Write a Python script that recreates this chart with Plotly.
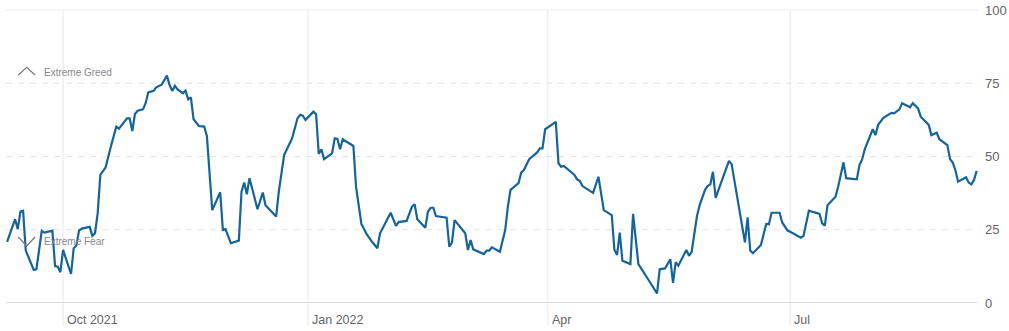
import plotly.graph_objects as go

# ---- data ----
dates = [
    "2021-09-10", "2021-09-13", "2021-09-14", "2021-09-15", "2021-09-16", "2021-09-17",
    "2021-09-20", "2021-09-21", "2021-09-23", "2021-09-24", "2021-09-27", "2021-09-28",
    "2021-09-29", "2021-09-30", "2021-10-01", "2021-10-04", "2021-10-05", "2021-10-06",
    "2021-10-07", "2021-10-08", "2021-10-11", "2021-10-12", "2021-10-13", "2021-10-14",
    "2021-10-15", "2021-10-17", "2021-10-19", "2021-10-21", "2021-10-22", "2021-10-25",
    "2021-10-26", "2021-10-27", "2021-10-28", "2021-10-29", "2021-10-31", "2021-11-01",
    "2021-11-02", "2021-11-04", "2021-11-05", "2021-11-07", "2021-11-09", "2021-11-10",
    "2021-11-11", "2021-11-12", "2021-11-13", "2021-11-15", "2021-11-16", "2021-11-17",
    "2021-11-18", "2021-11-19", "2021-11-21", "2021-11-23", "2021-11-24", "2021-11-26",
    "2021-11-29", "2021-11-30", "2021-12-01", "2021-12-03", "2021-12-06", "2021-12-07",
    "2021-12-08", "2021-12-09", "2021-12-10", "2021-12-13", "2021-12-15", "2021-12-16",
    "2021-12-20", "2021-12-21", "2021-12-23", "2021-12-26", "2021-12-28", "2021-12-29",
    "2021-12-30", "2021-12-31", "2022-01-03", "2022-01-04", "2022-01-05", "2022-01-06",
    "2022-01-07", "2022-01-10", "2022-01-11", "2022-01-12", "2022-01-13", "2022-01-14",
    "2022-01-18", "2022-01-19", "2022-01-21", "2022-01-23", "2022-01-25", "2022-01-27",
    "2022-01-28", "2022-02-01", "2022-02-03", "2022-02-04", "2022-02-07", "2022-02-09",
    "2022-02-10", "2022-02-11", "2022-02-14", "2022-02-15", "2022-02-16", "2022-02-17",
    "2022-02-18", "2022-02-22", "2022-02-23", "2022-02-24", "2022-02-25", "2022-02-27",
    "2022-03-01", "2022-03-02", "2022-03-03", "2022-03-04", "2022-03-08", "2022-03-09",
    "2022-03-10", "2022-03-11", "2022-03-14", "2022-03-16", "2022-03-17", "2022-03-18",
    "2022-03-21", "2022-03-22", "2022-03-23", "2022-03-25", "2022-03-28", "2022-03-29",
    "2022-03-30", "2022-03-31", "2022-04-04", "2022-04-05", "2022-04-06", "2022-04-07",
    "2022-04-09", "2022-04-11", "2022-04-12", "2022-04-13", "2022-04-14", "2022-04-18",
    "2022-04-20", "2022-04-22", "2022-04-25", "2022-04-26", "2022-04-27", "2022-04-28",
    "2022-04-29", "2022-05-02", "2022-05-03", "2022-05-05", "2022-05-09", "2022-05-11",
    "2022-05-12", "2022-05-13", "2022-05-15", "2022-05-17", "2022-05-18", "2022-05-19",
    "2022-05-20", "2022-05-23", "2022-05-24", "2022-05-25", "2022-05-27", "2022-05-28",
    "2022-05-30", "2022-05-31", "2022-06-01", "2022-06-02", "2022-06-03", "2022-06-08",
    "2022-06-09", "2022-06-14", "2022-06-15", "2022-06-16", "2022-06-17", "2022-06-20",
    "2022-06-22", "2022-06-23", "2022-06-24", "2022-06-27", "2022-06-28", "2022-06-30",
    "2022-07-01", "2022-07-05", "2022-07-06", "2022-07-08", "2022-07-12", "2022-07-13",
    "2022-07-14", "2022-07-15", "2022-07-18", "2022-07-19", "2022-07-21", "2022-07-22",
    "2022-07-26", "2022-07-27", "2022-07-28", "2022-07-29", "2022-08-01", "2022-08-02",
    "2022-08-03", "2022-08-05", "2022-08-08", "2022-08-09", "2022-08-11", "2022-08-12",
    "2022-08-15", "2022-08-16", "2022-08-18", "2022-08-19", "2022-08-22", "2022-08-23",
    "2022-08-24", "2022-08-25", "2022-08-26", "2022-08-29", "2022-08-30", "2022-08-31",
    "2022-09-01", "2022-09-02", "2022-09-05", "2022-09-06", "2022-09-07", "2022-09-08",
    "2022-09-09",
]

values = [
    20.9, 28.6, 25.2, 31.2, 31.5, 17.9,
    11.3, 11.5, 24.6, 24.0, 24.7, 12.6,
    12.4, 10.5, 18.1, 9.9, 18.7, 19.6,
    24.7, 25.4, 26.0, 22.9, 23.8, 30.6,
    43.7, 46.3, 53.6, 60.2, 59.5, 63.0,
    63.0, 58.7, 64.5, 65.6, 66.1, 68.2,
    71.9, 72.4, 73.6, 74.5, 77.6, 74.4,
    72.4, 74.1, 72.9, 71.6, 72.5, 69.5,
    70.2, 62.7, 60.4, 60.2, 57.0, 31.7,
    37.8, 24.9, 25.2, 20.4, 21.3, 38.0,
    41.1, 37.1, 42.6, 32.0, 37.7, 33.4,
    29.5, 38.0, 50.5, 56.2, 63.0, 64.2,
    63.9, 62.5, 65.3, 64.4, 50.9, 52.5,
    49.1, 51.1, 56.2, 56.0, 52.5, 55.9,
    53.6, 39.7, 27.0, 23.5, 20.9, 18.7,
    23.8, 30.8, 26.3, 27.6, 28.0, 32.9,
    33.7, 28.6, 25.7, 31.2, 32.5, 32.5,
    29.7, 29.1, 19.2, 20.6, 28.3, 26.0,
    23.8, 18.1, 21.5, 18.3, 16.7, 17.9,
    17.9, 19.0, 17.5, 24.9, 32.9, 38.6,
    40.9, 44.5, 45.4, 49.1, 51.4, 52.8,
    52.8, 59.3, 61.8, 47.7, 46.5, 46.8,
    45.2, 43.7, 42.2, 41.7, 39.9, 37.6,
    43.1, 31.7, 30.0, 18.1, 16.4, 24.0,
    14.4, 13.3, 30.4, 13.3, 7.6, 4.4,
    3.3, 11.5, 11.8, 14.9, 6.9, 13.9,
    12.7, 18.1, 16.1, 17.5, 29.7, 33.4,
    38.6, 39.9, 40.5, 44.8, 35.9, 48.5,
    47.4, 20.7, 29.2, 17.9, 17.0, 19.8,
    27.0, 26.9, 30.8, 30.8, 27.5, 24.7,
    24.3, 22.3, 22.9, 31.5, 30.4, 27.2,
    26.4, 33.4, 36.3, 39.7, 48.0, 42.6,
    42.2, 47.1, 49.0, 52.5, 59.3, 57.3,
    60.8, 63.2, 64.9, 64.7, 66.1, 68.2,
    66.8, 68.2, 66.4, 63.6, 60.8, 57.3,
    57.7, 58.1, 55.9, 53.9, 49.1, 47.9,
    45.4, 41.4, 42.9, 41.1, 40.5, 42.0,
    45.1,
]

month_ticks = ["2021-10-01", "2022-01-01", "2022-04-01", "2022-07-01"]
month_labels = ["Oct 2021", "Jan 2022", "Apr", "Jul"]
y_ticks = [0, 25, 50, 75, 100]
dashed_levels = [25, 50, 75]
zone_labels = ["Extreme Greed", "Extreme Fear"]

# ---- geometry helpers (pixel -> paper) ----
W, H = 1009, 331
ML, MR, MT, MB = 6, 31, 6, 28
PW, PH = W - ML - MR, H - MT - MB
TOP_PX = 10  # where the 100 line sits in the reference


def px(x):
    return (x - ML) / PW


def py(y):
    return (H - MB - y) / PH


LINE_COLOR = "#15659a"
FONT = "Liberation Sans, Arial, sans-serif"

fig = go.Figure()
fig.add_trace(go.Scatter(
    x=dates, y=values, mode="lines",
    line=dict(color=LINE_COLOR, width=2.2),
    hoverinfo="skip", showlegend=False,
))

shapes = []
for d in month_ticks:
    shapes.append(dict(type="line", xref="x", yref="paper", x0=d, x1=d,
                       y0=py(326), y1=py(TOP_PX), line=dict(color="#e8e8e8", width=1),
                       layer="below"))
for lv in dashed_levels:
    shapes.append(dict(type="line", xref="paper", yref="y", x0=0, x1=1,
                       y0=lv, y1=lv, line=dict(color="#e2e2e2", width=1, dash="6px,6px"),
                       layer="below"))
shapes.append(dict(type="line", xref="paper", yref="y", x0=0, x1=1, y0=100, y1=100,
                   line=dict(color="#ececec", width=1), layer="below"))
shapes.append(dict(type="line", xref="paper", yref="y", x0=0, x1=1, y0=0, y1=0,
                   line=dict(color="#dcdcdc", width=2), layer="below"))
shapes.append(dict(type="path", xref="paper", yref="paper",
                   path=f"M {px(18.3)},{py(75)} L {px(26.7)},{py(67.3)} L {px(35)},{py(75)}",
                   line=dict(color="#7a7a7a", width=1.2)))
shapes.append(dict(type="path", xref="paper", yref="paper",
                   path=f"M {px(18.3)},{py(237)} L {px(26.7)},{py(246)} L {px(35)},{py(237)}",
                   line=dict(color="#7a7a7a", width=1.2)))

annotations = []
for d, lab in zip(month_ticks, month_labels):
    annotations.append(dict(x=d, xref="x", y=py(320), yref="paper", text=lab,
                            showarrow=False, xanchor="left", yanchor="middle", xshift=2,
                            font=dict(family=FONT, size=12.5, color="#666666")))
annotations.append(dict(x=px(42), xref="paper", y=py(72), yref="paper", text=zone_labels[0],
                        showarrow=False, xanchor="left", yanchor="middle",
                        font=dict(family=FONT, size=10, color="#888888")))
annotations.append(dict(x=px(42), xref="paper", y=py(242), yref="paper", text=zone_labels[1],
                        showarrow=False, xanchor="left", yanchor="middle",
                        font=dict(family=FONT, size=10, color="#888888")))

# y range chosen so that 0 sits on the baseline pixel and 100 at TOP_PX
y_top = 100 * PH / (H - MB - TOP_PX)

fig.update_layout(
    width=W, height=H, autosize=False,
    margin=dict(l=ML, r=MR, t=MT, b=MB, pad=0, autoexpand=False),
    paper_bgcolor="white", plot_bgcolor="white",
    shapes=shapes, annotations=annotations,
    xaxis=dict(type="date", range=["2021-09-09 14:00", "2022-09-09 12:00"],
               showgrid=False, zeroline=False, showline=False, showticklabels=False,
               ticks="", fixedrange=True, automargin=False),
    yaxis=dict(range=[0, y_top], side="right", tickvals=y_ticks, ticks="",
               showgrid=False, zeroline=False, showline=False, automargin=False,
               tickfont=dict(family=FONT, size=13, color="#666666"),
               ticklabelstandoff=6, fixedrange=True),
)

fig.write_html("out.html")
